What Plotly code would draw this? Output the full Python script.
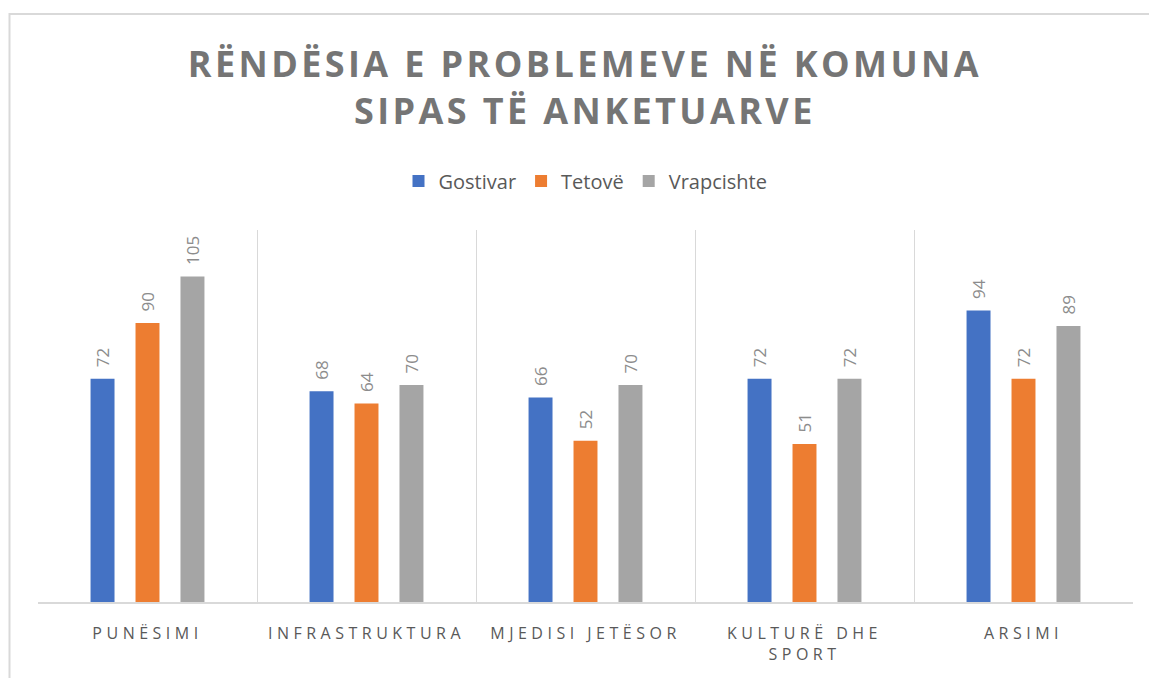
import plotly.graph_objects as go

categories = ["PUNËSIMI", "INFRASTRUKTURA", "MJEDISI JETËSOR", "KULTURË DHE SPORT", "ARSIMI"]
tick_labels = ["PUNËSIMI", "INFRASTRUKTURA", "MJEDISI JETËSOR", "KULTURË DHE<br>SPORT", "ARSIMI"]
series_names = ["Gostivar", "Tetovë", "Vrapcishte"]
gostivar = [72, 68, 66, 72, 94]
tetove = [90, 64, 52, 51, 72]
vrapcishte = [105, 70, 70, 72, 89]
colors = ["#4472C4", "#ED7D31", "#A5A5A5"]

FONT = "Open Sans"
GRAY = "#595959"


def spaced(text, ls):
    return "<br>".join(f'<span style="letter-spacing:{ls}px">{part}</span>' for part in text.split("<br>"))


fig = go.Figure()
for name, vals, col in zip(series_names, [gostivar, tetove, vrapcishte], colors):
    fig.add_trace(go.Bar(
        name=name, x=categories, y=vals, marker=dict(color=col, line=dict(width=0)),
        text=vals, texttemplate="\u2002%{y}", textposition="outside", textangle=-90,
        textfont=dict(family=FONT, size=17, color="#8c8c8c"),
        constraintext="none", cliponaxis=False,
    ))

title_text = spaced("RËNDËSIA E PROBLEMEVE NË KOMUNA<br>SIPAS TË ANKETUARVE", 3.4)

fig.update_layout(
    width=1149, height=678,
    margin=dict(l=38, r=16, t=230, b=76),
    paper_bgcolor="white", plot_bgcolor="white",
    barmode="group", bargap=0.384, bargroupgap=0.467,
    title=dict(text=title_text, x=0.509, xanchor="center", y=1 - 77 / 678, yanchor="middle",
               yref="container",
               font=dict(family=FONT, size=36, color="#757575", weight="bold")),
    legend=dict(orientation="h", x=0.5, xanchor="center", y=1.1317, yanchor="middle",
                font=dict(family=FONT, size=20, color=GRAY), traceorder="normal"),
    showlegend=True,
    xaxis=dict(
        type="category", tickvals=categories, ticktext=[spaced(t, 4.5) for t in tick_labels],
        tickson="boundaries", showgrid=True, gridcolor="#d9d9d9", gridwidth=1,
        showline=True, linecolor="#d9d9d9", linewidth=1.5,
        ticks="", ticklabelstandoff=16,
        tickfont=dict(family=FONT, size=16, color=GRAY),
        range=[-0.5, 4.5],
    ),
    yaxis=dict(range=[0, 120], visible=False, showgrid=False, zeroline=False),
    shapes=[dict(type="rect", xref="paper", yref="paper",
                 x0=(9.5 - 38) / 1095, x1=1.2, y0=-0.5, y1=(602 - 14) / 372,
                 line=dict(color="#d9d9d9", width=2), fillcolor="rgba(0,0,0,0)", layer="below")],
)

fig.write_html("out.html", config={"displayModeBar": False},
               post_script="document.body.style.margin='0';document.body.style.overflow='hidden';")
